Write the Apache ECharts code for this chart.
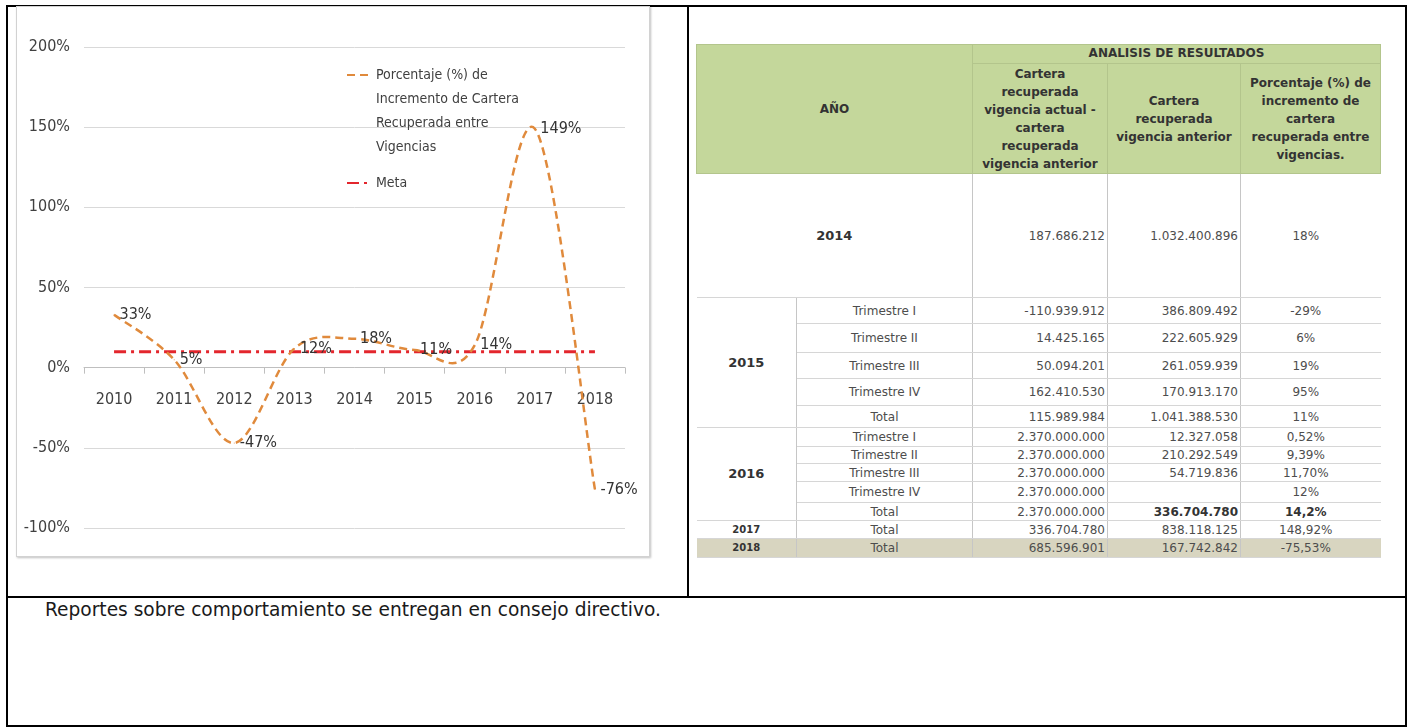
<!DOCTYPE html>
<html><head><meta charset="utf-8">
<script src="https://cdn.jsdelivr.net/npm/echarts@6/dist/echarts.min.js"></script>
<style>
html,body{margin:0;padding:0;background:#fff;width:1412px;height:727px;overflow:hidden;}
.ln{position:absolute;background:#000;}
#frame{position:absolute;left:16px;top:6px;width:632px;height:549px;border:1px solid #d2d2d2;box-shadow:1px 1px 2px rgba(0,0,0,0.25);}
#chart{position:absolute;left:16px;top:6px;width:634px;height:550px;}
#tbl{position:absolute;left:696px;top:44px;width:684px;border-collapse:collapse;table-layout:fixed;font-family:'DejaVu Sans',Verdana,sans-serif;font-size:12px;color:#4d4d4d;}
#tbl th,#tbl td{padding:0;overflow:hidden;white-space:nowrap;}
#tbl th{background:#c4d79b;font-weight:bold;color:#333;font-size:12px;line-height:18px;border:1px solid #b3c58c;text-align:center;vertical-align:middle;}
#tbl td{border-left:1px solid #c6c6c6;border-right:1px solid #c6c6c6;border-bottom:1px solid #d6d6d6;vertical-align:middle;line-height:14px;}
#tbl td.first{border-left:none;}
#tbl td.last{border-right:none;}
#tbl tr.sec td{border-top:1px solid #9c9c9c;}
#tbl td.yr{text-align:center;font-weight:bold;color:#333;font-size:13px;}
#tbl td.yrs{text-align:center;font-weight:bold;color:#333;font-size:10px;}
#tbl td.per{text-align:center;}
#tbl td.num{text-align:right;padding-right:2px;}
#tbl td.pct{text-align:center;padding-right:10px;}
#tbl td.b{font-weight:bold;color:#333;}
#tbl tr.beige td{background:#d8d5c0;}
#note{position:absolute;left:45px;top:599px;font-family:'DejaVu Sans',Verdana,sans-serif;font-size:18.6px;line-height:22px;color:#1a1a1a;white-space:nowrap;}
</style>
</head><body>
<div class="ln" style="left:6px;top:5px;width:1401px;height:2px"></div>
<div class="ln" style="left:6px;top:5px;width:2px;height:722px"></div>
<div class="ln" style="left:1405px;top:5px;width:2px;height:722px"></div>
<div class="ln" style="left:687px;top:5px;width:2px;height:592px"></div>
<div class="ln" style="left:6px;top:596px;width:1401px;height:2px"></div>
<div class="ln" style="left:6px;top:725px;width:1401px;height:2px"></div>
<div id="frame"></div>
<div id="chart"></div>
<table id="tbl"></table>
<div id="note"></div>
<script>
// ---- chart data ----
const years = ['2010','2011','2012','2013','2014','2015','2016','2017','2018'];
const porcentaje = [33, 5, -47, 12, 18, 11, 14, 149, -76];
const meta = [10, 10, 10, 10, 10, 10, 10, 10, 10];
const seriesName = 'Porcentaje (%) de Incremento de Cartera Recuperada entre Vigencias';
const legendLines = ['Porcentaje (%) de', 'Incremento de Cartera', 'Recuperada entre', 'Vigencias'];
const metaName = 'Meta';
const yMin = -100, yMax = 200, yStep = 50;

// ---- table data ----
const headYear = 'AÑO';
const headGroup = 'ANALISIS DE RESULTADOS';
const headCols = [
  ['Cartera','recuperada','vigencia actual -','cartera','recuperada','vigencia anterior'],
  ['Cartera','recuperada','vigencia anterior'],
  ['Porcentaje (%) de','incremento de','cartera','recuperada entre','vigencias.']
];
const row2014 = ['2014','187.686.212','1.032.400.896','18%'];
const periods = ['Trimestre I','Trimestre II','Trimestre III','Trimestre IV','Total'];
const diff2015 = ['-110.939.912','14.425.165','50.094.201','162.410.530','115.989.984'];
const prev2015 = ['386.809.492','222.605.929','261.059.939','170.913.170','1.041.388.530'];
const pct2015 = ['-29%','6%','19%','95%','11%'];
const diff2016 = ['2.370.000.000','2.370.000.000','2.370.000.000','2.370.000.000','2.370.000.000'];
const prev2016 = ['12.327.058','210.292.549','54.719.836','','336.704.780'];
const pct2016 = ['0,52%','9,39%','11,70%','12%','14,2%'];
const row2017 = ['2017','Total','336.704.780','838.118.125','148,92%'];
const row2018 = ['2018','Total','685.596.901','167.742.842','-75,53%'];
const noteText = 'Reportes sobre comportamiento se entregan en consejo directivo.';

// ---- table build ----
const h2015 = [26,29,26,27,22];
const h2016 = [19,17,18,21,18];
let h = '<colgroup><col style="width:100px"><col style="width:176px"><col style="width:135px"><col style="width:133px"><col style="width:140px"></colgroup>';
h += '<tr style="height:19px"><th colspan="2" rowspan="2">' + headYear + '</th><th colspan="3" style="vertical-align:top;line-height:16px">' + headGroup + '</th></tr>';
h += '<tr style="height:110px">' + headCols.map(c => '<th>' + c.join('<br>') + '</th>').join('') + '</tr>';
h += '<tr style="height:124px"><td colspan="2" class="yr first">' + row2014[0] + '</td><td class="num">' + row2014[1] + '</td><td class="num">' + row2014[2] + '</td><td class="pct last">' + row2014[3] + '</td></tr>';
function block(year, hs, diff, prev, pct, boldTotal) {
  let s = '';
  periods.forEach((p, i) => {
    const bt = boldTotal && i === 4 ? ' b' : '';
    s += '<tr style="height:' + hs[i] + 'px"' + (i === 0 ? ' class="sec"' : '') + '>' +
      (i === 0 ? '<td rowspan="5" class="yr first">' + year + '</td>' : '') +
      '<td class="per">' + p + '</td><td class="num">' + diff[i] + '</td><td class="num' + bt + '">' + prev[i] +
      '</td><td class="pct last' + bt + '">' + pct[i] + '</td></tr>';
  });
  return s;
}
h += block('2015', h2015, diff2015, prev2015, pct2015, false);
h += block('2016', h2016, diff2016, prev2016, pct2016, true);
function single(r, cls, ht) {
  return '<tr style="height:' + ht + 'px" class="' + cls + '"><td class="yrs first">' + r[0] + '</td><td class="per">' + r[1] +
    '</td><td class="num">' + r[2] + '</td><td class="num">' + r[3] + '</td><td class="pct last">' + r[4] + '</td></tr>';
}
h += single(row2017, 'sec', 18);
h += single(row2018, 'beige', 19);
document.getElementById('tbl').innerHTML = h;
document.getElementById('note').textContent = noteText;

// ---- chart ----
const FONT = "'Liberation Sans Narrow','DejaVu Sans Condensed','Arial Narrow',sans-serif";
const ORANGE = '#E08A3C';
const legendText = {};
legendText[seriesName] = '\n\n\n' + legendLines.join('\n');
legendText[metaName] = metaName;
const gridTop = 41, gridBottom = 28, chartH = 550;
const plotH = chartH - gridTop - gridBottom;
const zeroOffset = -plotH * (0 - yMin) / (yMax - yMin); // move label axis up to the 0% line

// Excel-like (Catmull-Rom) smoothed path through the data points, via the axis scales
function smoothCurve(params, api) {
  if (params.dataIndex !== 0) return null;
  const pts = porcentaje.map((v, i) => api.coord([i, v]));
  const n = pts.length;
  let d = 'M' + pts[0][0] + ' ' + pts[0][1];
  for (let i = 0; i < n - 1; i++) {
    const p0 = pts[Math.max(i - 1, 0)], p1 = pts[i], p2 = pts[i + 1], p3 = pts[Math.min(i + 2, n - 1)];
    const c1x = p1[0] + (p2[0] - p0[0]) / 6, c1y = p1[1] + (p2[1] - p0[1]) / 6;
    const c2x = p2[0] - (p3[0] - p1[0]) / 6, c2y = p2[1] - (p3[1] - p1[1]) / 6;
    d += ' C' + c1x + ' ' + c1y + ' ' + c2x + ' ' + c2y + ' ' + p2[0] + ' ' + p2[1];
  }
  return {type: 'path', shape: {pathData: d}, style: {fill: 'none', stroke: ORANGE, lineWidth: 2.5, lineDash: [8, 5]}};
}

const chart = echarts.init(document.getElementById('chart'));
chart.setOption({
  animation: false,
  grid: {left: 68, right: 25, top: gridTop, bottom: gridBottom},
  legend: {
    orient: 'vertical', left: 330, top: -15, padding: 0, itemGap: 12,
    itemWidth: 24, itemHeight: 14,
    itemStyle: {opacity: 0},
    lineStyle: {opacity: 1},
    textStyle: {fontFamily: FONT, fontSize: 14, lineHeight: 24, color: '#404040'},
    formatter: n => legendText[n],
    data: [seriesName, metaName]
  },
  xAxis: [{
    type: 'category', data: years, boundaryGap: true,
    axisLine: {onZero: true, lineStyle: {color: '#bfbfbf', width: 1}},
    axisTick: {show: true, length: 6, lineStyle: {color: '#bfbfbf'}},
    axisLabel: {show: false}
  }, {
    type: 'category', data: years, boundaryGap: true, position: 'bottom', offset: zeroOffset,
    axisLine: {show: false, onZero: false},
    axisTick: {show: false},
    axisLabel: {margin: 24, fontFamily: FONT, fontSize: 16, color: '#404040'}
  }],
  yAxis: {
    type: 'value', min: yMin, max: yMax, interval: yStep,
    axisLabel: {formatter: '{value}%', fontFamily: FONT, fontSize: 16, color: '#404040', margin: 14},
    splitLine: {lineStyle: {color: '#d9d9d9'}},
    axisLine: {show: false}, axisTick: {show: false}
  },
  series: [
    {
      name: metaName, type: 'line', data: meta, symbol: 'none',
      itemStyle: {color: '#E3262D'},
      lineStyle: {color: '#E3262D', width: 3, type: [12, 5, 3, 5]},
      z: 2
    },
    {
      name: seriesName + ' curve', type: 'custom', xAxisIndex: 0,
      data: porcentaje.map((v, i) => [i, v]),
      encode: {x: 0, y: 1},
      renderItem: smoothCurve, silent: true, z: 3
    },
    {
      name: seriesName, type: 'line', data: porcentaje,
      symbol: 'circle', symbolSize: 1,
      itemStyle: {color: ORANGE},
      lineStyle: {color: ORANGE, width: 2.5, type: [8, 5], opacity: 0},
      label: {show: true, position: 'right', distance: 5, formatter: '{c}%', fontFamily: FONT, fontSize: 16, color: '#333'},
      z: 4
    }
  ]
});
</script>
</body></html>
